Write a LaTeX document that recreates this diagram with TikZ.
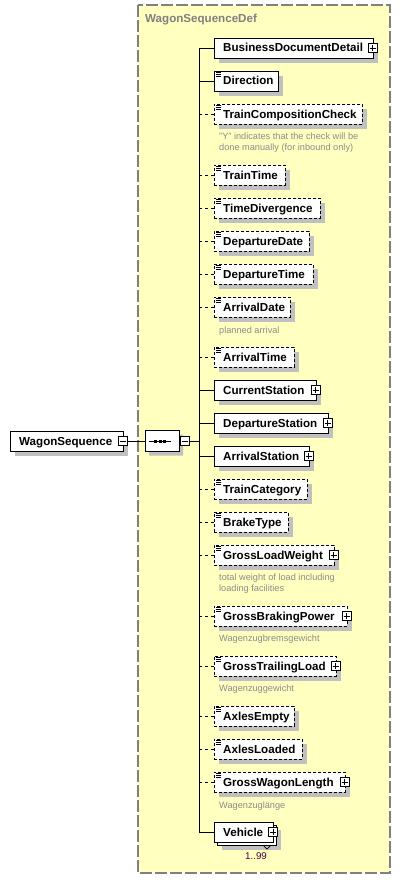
\documentclass[tikz,border=0pt]{standalone}
\usepackage{fontspec}
\setmainfont{Liberation Sans}
\usetikzlibrary{shapes.misc}
\definecolor{ylw}{RGB}{255,255,192}
\definecolor{shd}{RGB}{192,192,192}
\definecolor{frm}{RGB}{128,128,128}
\definecolor{annoc}{RGB}{140,140,140}
\definecolor{occ}{RGB}{72,0,64}
\tikzset{
  boxm/.style={draw=black, fill=white, line width=0.8pt, inner sep=0pt, minimum height=20pt, anchor=west},
  boxo/.style={boxm, dash pattern=on 3pt off 2pt},
  connm/.style={draw=black, line width=0.8pt},
  conno/.style={connm, dash pattern=on 3pt off 3pt},
  lbl/.style={anchor=base west, inner sep=0pt, font=\fontsize{11.6}{13}\selectfont\bfseries},
  annot/.style={anchor=base west, inner sep=0pt, text=annoc, font=\fontsize{9.2}{11}\selectfont},
  pmbox/.style={draw=black, fill=white, line width=0.8pt, minimum size=9pt, inner sep=0pt},
}
% #1 id, #2 text, #3 right x, #4 centre y, #5 m/o, #6 icon 1/0, #7 plus 1/0
\newcommand\xsdel[7]{%
  \fill[shd] (219,{#4-5}) rectangle ({#3+5},{#4+15});
  \node[box#5, minimum width={#3-214}] (#1) at (214,#4) {};
  \node[lbl] (#1t) at (223,{#4+4}) {#2};
  \coordinate (#1s) at (199,#4);
  \draw[conn#5] (#1s) -- (#1.west);
  \ifnum#6=1
    \draw[line width=0.7pt] (216,{#4-8.5}) -- (221,{#4-8.5});
    \draw[line width=0.7pt] (216,{#4-6.5}) -- (221,{#4-6.5});
    \draw[line width=0.7pt] (216,{#4-4.5}) -- (221,{#4-4.5});
  \fi
  \ifnum#7=1
    \node[pmbox] (#1p) at ({#3-0.5},#4) {};
    \draw[line width=0.7pt] ([xshift=-3pt]#1p.center) -- ([xshift=3pt]#1p.center);
    \draw[line width=0.7pt] ([yshift=-3pt]#1p.center) -- ([yshift=3pt]#1p.center);
  \fi
}
\begin{document}
\begin{tikzpicture}[x=1pt,y=-1pt]
\useasboundingbox (0,0) rectangle (401,880);
\fill[white] (0,0) rectangle (401,880);
% frame
\draw[frm, fill=ylw, line width=1.2pt, dash pattern=on 12pt off 3pt] (138,5) rectangle (390,873);
\node[anchor=base west, inner sep=0pt, text=frm, font=\fontsize{11.6}{13}\selectfont\bfseries] (deflbl) at (145,23) {WagonSequenceDef};
% spine
\coordinate (sptop) at (199,48);
\coordinate (spbot) at (199,832);
\coordinate (spmid) at (199,441);
\draw[connm] (sptop) -- (spbot);
% root element
\fill[shd] (15,436) rectangle (128,456);
\node[boxm, minimum width=113pt] (root) at (10,441) {};
\node[lbl] (roott) at (19,445) {WagonSequence};
\node[pmbox] (rootm) at (122.5,441) {};
\draw[line width=0.7pt] ([xshift=-3pt]rootm.center) -- ([xshift=3pt]rootm.center);
% compositor
\node[chamfered rectangle, chamfered rectangle xsep=5pt, chamfered rectangle ysep=5pt, fill=shd, minimum width=34pt, minimum height=21pt, inner sep=0pt] (seqsh) at (166,445) {};
\node[chamfered rectangle, chamfered rectangle xsep=5pt, chamfered rectangle ysep=5pt, draw=black, line width=0.8pt, fill=white, minimum width=34pt, minimum height=21pt, inner sep=0pt] (seq) at (162,441) {};
\draw[line width=1pt] (149,441) -- (171,441);
\fill (154,439.5) rectangle (157,442.5);
\fill (158.5,439.5) rectangle (161.5,442.5);
\fill (163,439.5) rectangle (166,442.5);
\node[pmbox] (seqm) at (184.5,441) {};
\draw[line width=0.7pt] ([xshift=-3pt]seqm.center) -- ([xshift=3pt]seqm.center);
\draw[connm] (rootm.east) -- (seq.west);
\draw[connm] (seqm.east) -- (spmid);
% elements
\xsdel{bdd}{BusinessDocumentDetail}{373}{48}{m}{0}{1}
\xsdel{dir}{Direction}{278}{81}{m}{1}{0}
\xsdel{tcc}{TrainCompositionCheck}{362}{114}{o}{1}{0}
\node[annot] (tcca) at (219,139.5) {"Y" indicates that the check will be};
\node[annot] (tccb) at (219,150.5) {done manually (for inbound only)};
\xsdel{trt}{TrainTime}{285}{175}{o}{1}{0}
\xsdel{tdv}{TimeDivergence}{320}{208}{o}{1}{0}
\xsdel{dpd}{DepartureDate}{309}{241}{o}{1}{0}
\xsdel{dpt}{DepartureTime}{313}{274}{o}{1}{0}
\xsdel{ard}{ArrivalDate}{290}{307}{o}{1}{0}
\node[annot] (arda) at (219,333) {planned arrival};
\xsdel{art}{ArrivalTime}{294}{357}{o}{1}{0}
\xsdel{cst}{CurrentStation}{316}{390}{m}{0}{1}
\xsdel{dst}{DepartureStation}{328}{423}{m}{0}{1}
\xsdel{ast}{ArrivalStation}{309}{456}{m}{0}{1}
\xsdel{tca}{TrainCategory}{307}{489}{o}{1}{0}
\xsdel{brt}{BrakeType}{288}{522}{o}{1}{0}
\xsdel{glw}{GrossLoadWeight}{334}{555}{o}{1}{1}
\node[annot] (glwa) at (219,580) {total weight of load including};
\node[annot] (glwb) at (219,591) {loading facilities};
\xsdel{gbp}{GrossBrakingPower}{347}{616}{o}{1}{1}
\node[annot] (gbpa) at (219,641) {Wagenzugbremsgewicht};
\xsdel{gtl}{GrossTrailingLoad}{336}{666}{o}{1}{1}
\node[annot] (gtla) at (219,691) {Wagenzuggewicht};
\xsdel{aem}{AxlesEmpty}{294}{716}{o}{1}{0}
\xsdel{alo}{AxlesLoaded}{302}{749}{o}{1}{0}
\xsdel{gwl}{GrossWagonLength}{345}{782}{o}{1}{1}
\node[annot] (gwla) at (219,808) {Wagenzuglänge};
% Vehicle (repeating)
\fill[shd] (222,830) rectangle (281,850);
\node[boxm, minimum width=59pt] (vehb) at (217,835) {};
\node[boxm, minimum width=59pt] (veh) at (214,832) {};
\node[lbl] (veht) at (223,836) {Vehicle};
\coordinate (vehs) at (199,832);
\draw[connm] (vehs) -- (veh.west);
\node[pmbox] (vehp) at (273,832) {};
\draw[line width=0.7pt] ([xshift=-3pt]vehp.center) -- ([xshift=3pt]vehp.center);
\draw[line width=0.7pt] ([yshift=-3pt]vehp.center) -- ([yshift=3pt]vehp.center);
\draw[line width=0.7pt] (263,845) -- (267,849) -- (271,845);
\node[inner sep=0pt, text=occ, font=\fontsize{9.8}{11}\selectfont] (vehocc) at (256,856) {1..99};
\end{tikzpicture}
\end{document}
